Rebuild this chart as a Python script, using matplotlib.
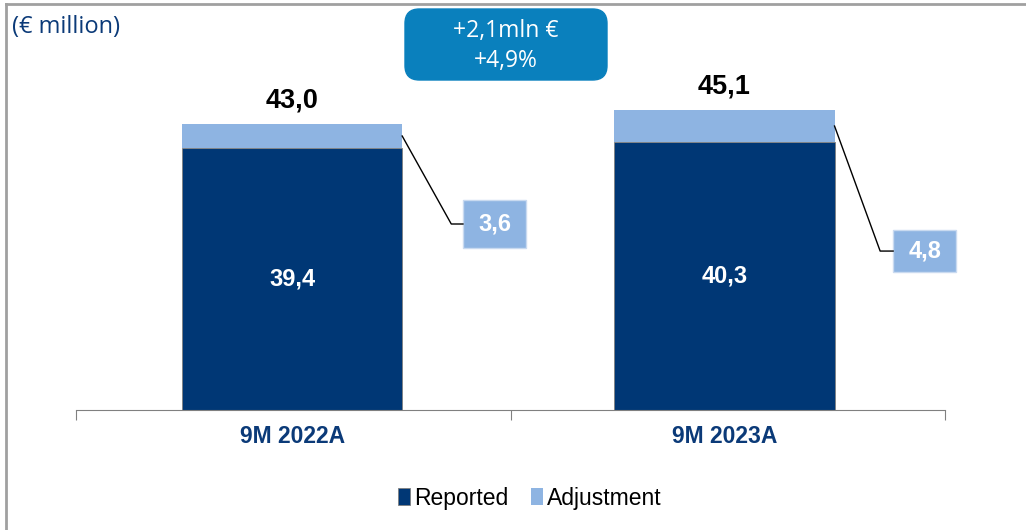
import numpy as np
import matplotlib.pyplot as plt
from matplotlib.patches import FancyBboxPatch, Rectangle
from matplotlib.lines import Line2D

categories = ["9M 2022A", "9M 2023A"]
reported = [39.4, 40.3]
adjustment = [3.6, 4.8]
totals = [43.0, 45.1]
delta_lines = ["+2,1mln €", "+4,9%"]

dark = "#003775"
light = "#8EB4E2"
navy = "#0B3A78"

def fmt(v):
    return f"{v:.1f}".replace(".", ",")

fig = plt.figure(figsize=(10.26, 5.30), dpi=100)
ax = fig.add_axes([76/1026, 1 - 410/530, (945-76)/1026, 399/530])
x = np.arange(len(categories))
ax.set_xlim(-0.5, 1.51)
ax.set_ylim(0, 60)

bw = 0.509
ax.bar(x, reported, width=bw, color=dark, edgecolor="#808080", linewidth=0.6, label="Reported")
ax.bar(x, adjustment, width=bw, bottom=reported, color=light, label="Adjustment")

for xi, r, t in zip(x, reported, totals):
    ax.text(xi, r / 2, fmt(r), ha="center", va="center", color="white",
            fontsize=17, fontweight="bold", family="Liberation Sans")
    ax.text(xi, t + 3.6, fmt(t), ha="center", va="center", color="black",
            fontsize=19.5, fontweight="bold", family="Liberation Sans")

# callout boxes for adjustment values (offsets relative to each bar)
box_y = [27.97, 23.9]
box_h = [7.2, 6.3]
box_dx = [0.395, 0.39]
knee_dx = [0.368, 0.36]
box_w = 0.146
for xi, r, a, by, bh, bdx, kdx in zip(x, reported, adjustment, box_y, box_h, box_dx, knee_dx):
    ax.plot([xi + bw / 2, xi + kdx, xi + bdx], [r + a / 2, by, by], color="black", lw=1.0, clip_on=False)
    ax.add_patch(Rectangle((xi + bdx, by - bh / 2), box_w, bh, fc=light, ec="#C9DAF0", lw=1, clip_on=False))
    ax.text(xi + bdx + box_w / 2, by, fmt(a), ha="center", va="center", color="white",
            fontsize=17, fontweight="bold", family="Liberation Sans")

# category axis
ax.spines[["left", "right", "top"]].set_visible(False)
ax.spines["bottom"].set_color("#808080")
ax.set_yticks([])
ax.set_xticks([-0.5, 0.505, 1.51])
ax.set_xticklabels([])
ax.tick_params(axis="x", direction="out", length=7, color="#808080")
for xi, c in zip(x, categories):
    ax.text(xi, -4.0, c, ha="center", va="center", color=navy, fontsize=16.5,
            fontweight="bold", family="Liberation Sans")

leg = fig.legend(loc="center", bbox_to_anchor=(530/1026, 1 - 498/530), ncol=2, frameon=False,
                 prop={"family": "Liberation Sans", "size": 16.5}, handlelength=0.5, handleheight=0.8,
                 handletextpad=0.2, columnspacing=1.0)

# top delta box
fig.patches.append(FancyBboxPatch((405/1026, 1 - 80/530), 202/1026, 71/530,
                                  boxstyle="round,pad=0,rounding_size=0.014", transform=fig.transFigure,
                                  fc="#0A80BD", ec="#0A80BD", mutation_aspect=1026/530))
for i, line in enumerate(delta_lines):
    fig.text(506/1026, 1 - (31 + 30 * i)/530, line, ha="center", va="center", color="white",
             fontsize=16.5, family="Open Sans")

fig.text(12/1026, 1 - 27/530, "(€ million)", ha="left", va="center", color=navy,
         fontsize=17, family="Open Sans")

# outer frame top and left
fig.add_artist(Line2D([6/1026, 1], [1 - 4/530, 1 - 4/530], color="#A0A0A0", lw=2, transform=fig.transFigure))
fig.add_artist(Line2D([6/1026, 6/1026], [0, 1 - 4/530], color="#A0A0A0", lw=2, transform=fig.transFigure))

fig.savefig("out.png", dpi=100)
